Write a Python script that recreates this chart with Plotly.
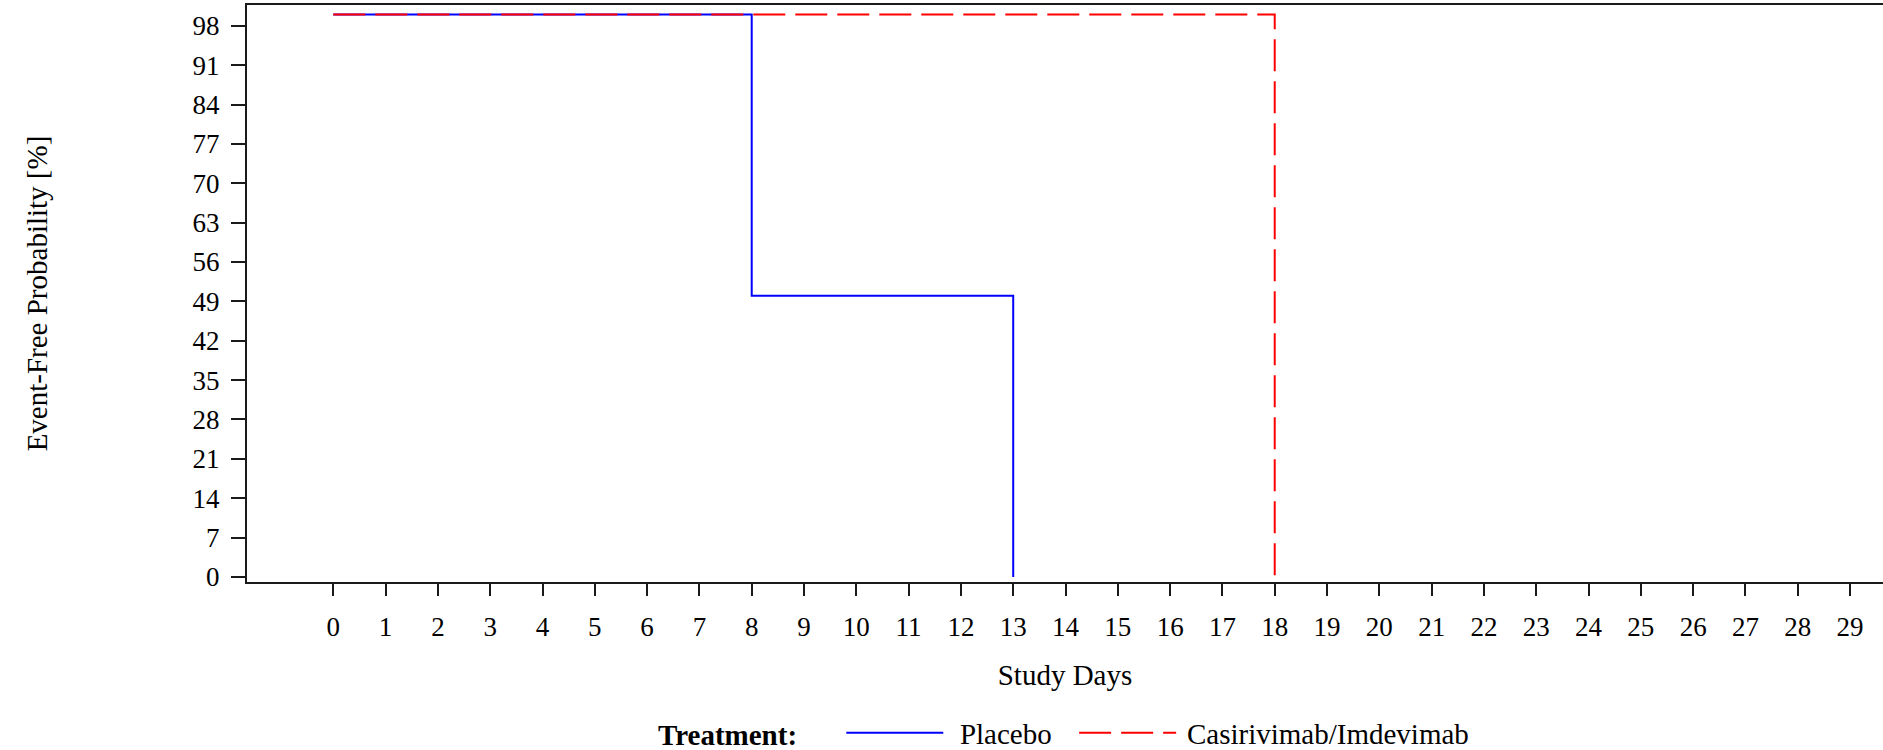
import plotly.graph_objects as go

# Kaplan-Meier step data (event times and survival after each step)
placebo_days = [0, 8, 13]
placebo_prob = [100, 50, 0]
cas_days = [0, 18]
cas_prob = [100, 0]

x_ticks = list(range(0, 30))
y_ticks = list(range(0, 99, 7))

FONT = "Liberation Serif"
TS = "\u2009"  # thin space for legend spacing

fig = go.Figure()
fig.add_trace(go.Scatter(
    x=placebo_days, y=placebo_prob, mode="lines", line_shape="hv",
    name=TS + TS + "Placebo" + TS + TS + TS, line=dict(color="#0000FF", width=2),
))
fig.add_trace(go.Scatter(
    x=cas_days, y=cas_prob, mode="lines", line_shape="hv",
    name=TS + "Casirivimab/Imdevimab",
    line=dict(color="#FF0000", width=2, dash="32px,10px"),
))

fig.update_layout(
    width=1883, height=750,
    margin=dict(l=247, r=0, t=5, b=168, autoexpand=False),
    paper_bgcolor="white", plot_bgcolor="white",
    font=dict(family=FONT, size=27, color="black"),
    showlegend=True,
    legend=dict(
        orientation="h", x=0.2500, xanchor="left", y=-0.2617, yanchor="middle",
        title=dict(text="<b>Treatment:</b>\u00a0\u00a0\u00a0\u00a0\u00a0", font=dict(family=FONT, size=29), side="left"),
        font=dict(family=FONT, size=29),
        bgcolor="rgba(0,0,0,0)", itemwidth=97,
    ),
    xaxis=dict(
        range=[-1.65, 29.63], tickmode="array", tickvals=x_ticks,
        ticktext=[str(v) for v in x_ticks], automargin=False,
        showgrid=False, zeroline=False, showline=True, linecolor="#1a1a1a", linewidth=2,
        mirror=True, ticks="outside", ticklen=12, tickwidth=2, tickcolor="#1a1a1a",
        tickfont=dict(family=FONT, size=27), ticklabelstandoff=8,
        title=dict(text="Study Days", font=dict(family=FONT, size=29), standoff=23),
    ),
    yaxis=dict(
        range=[-0.9, 101.7], tickmode="array", tickvals=y_ticks,
        ticktext=[str(v) for v in y_ticks], automargin=False,
        showgrid=False, zeroline=False, showline=True, linecolor="#1a1a1a", linewidth=2,
        mirror=False, ticks="outside", ticklen=14, tickwidth=2, tickcolor="#1a1a1a",
        tickfont=dict(family=FONT, size=27), ticklabelstandoff=6,
        title=dict(text="Event-Free Probability [%]", font=dict(family=FONT, size=29), standoff=136),
    ),
)

fig.write_html(
    "out.html",
    config={"displayModeBar": False},
    post_script="document.body.style.margin='0';document.body.style.overflow='hidden';",
)
